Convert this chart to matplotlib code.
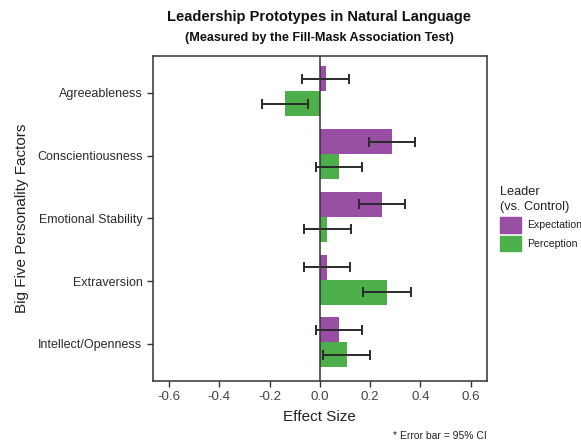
import numpy as np
import matplotlib
matplotlib.use("Agg")
import matplotlib.pyplot as plt
from matplotlib.patches import Patch

plt.rcParams['font.family'] = ['Liberation Sans', 'DejaVu Sans']

# Data
factors = ["Agreeableness", "Conscientiousness", "Emotional Stability",
           "Extraversion", "Intellect/Openness"]
expectation = [0.023, 0.287, 0.248, 0.029, 0.077]
perception = [-0.139, 0.077, 0.030, 0.267, 0.107]
expectation_ci = [0.093, 0.093, 0.093, 0.092, 0.092]
perception_ci = [0.093, 0.092, 0.093, 0.095, 0.094]
xticks = [-0.6, -0.4, -0.2, 0.0, 0.2, 0.4, 0.6]

purple = "#984EA3"
green = "#4DAF4A"
dark = "#333333"

fig = plt.figure(figsize=(5.81, 4.44), dpi=100)
ax = fig.add_axes([0.263, 0.142, 0.575, 0.732])

y = np.arange(len(factors)) - 0.025
h = 0.4
ax.barh(y - h / 2, expectation, height=h, color=purple, label="Expectation")
ax.barh(y + h / 2, perception, height=h, color=green, label="Perception")
ax.errorbar(expectation, y - h / 2, xerr=expectation_ci, fmt="none",
            ecolor="#2a2a2a", elinewidth=1.4, capsize=3.3, capthick=1.4)
ax.errorbar(perception, y + h / 2, xerr=perception_ci, fmt="none",
            ecolor="#2a2a2a", elinewidth=1.4, capsize=3.3, capthick=1.4)

ax.axvline(0, color=dark, linewidth=1.1, zorder=3)
ax.set_xlim(-0.665, 0.665)
ax.set_ylim(len(factors) - 0.41, -0.59)
ax.set_xticks(xticks)
ax.set_xticklabels([f"{t:.1f}" for t in xticks])
ax.set_yticks(np.arange(len(factors)))
ax.set_yticklabels(factors)
ax.tick_params(colors=dark, labelcolor="#2b2b2b", labelsize=9, length=4, width=1)
ax.tick_params(axis="x", labelsize=9.6, labelcolor="#444444")
for s in ax.spines.values():
    s.set_color(dark)
    s.set_linewidth(1.1)

ax.set_xlabel("Effect Size", fontsize=11, color="#222222", labelpad=5)
ax.set_ylabel("Big Five Personality Factors", fontsize=11, color="#222222", labelpad=6)

fig.text(0.549, 0.962, "Leadership Prototypes in Natural Language",
         ha="center", va="center", fontsize=10.5, fontweight="bold", color="#111111")
fig.text(0.549, 0.914, "(Measured by the Fill-Mask Association Test)",
         ha="center", va="center", fontsize=9.1, fontweight="bold", color="#111111")

handles = [Patch(color=purple, label="Expectation"), Patch(color=green, label="Perception")]
leg = fig.legend(handles=handles, title="Leader\n(vs. Control)", loc="upper left",
                 bbox_to_anchor=(0.861, 0.582), frameon=False, fontsize=7.6,
                 title_fontsize=9.2, handlelength=2.0, handleheight=1.85,
                 handletextpad=0.5, labelspacing=0.3, borderaxespad=0, borderpad=0)
leg._legend_box.align = "left"
leg._legend_box.sep = 3
for t in leg.get_texts():
    t.set_color("#222222")
leg.get_title().set_color("#222222")
leg.get_title().set_linespacing(1.4)

fig.text(0.838, 0.018, "* Error bar = 95% CI", ha="right", va="center",
         fontsize=7.5, color="#222222")

fig.savefig("out.png", dpi=100)
